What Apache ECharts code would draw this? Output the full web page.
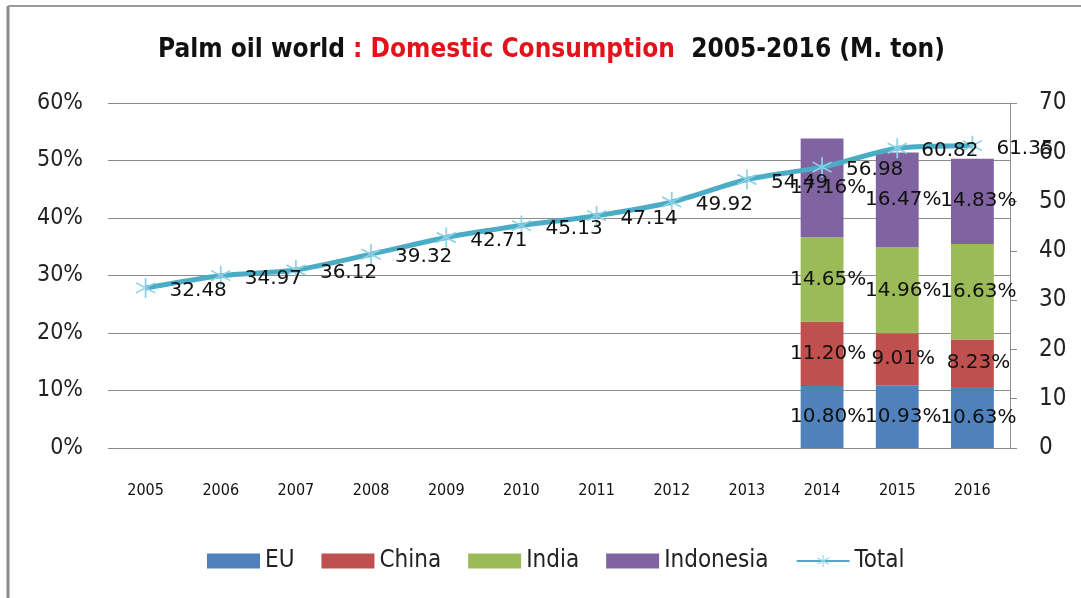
<!DOCTYPE html>
<html>
<head>
<meta charset="utf-8">
<script src="https://cdn.jsdelivr.net/npm/echarts@6/dist/echarts.min.js"></script>
<style>
  html, body { margin: 0; padding: 0; background: #fff; }
  #chart { width: 1081px; height: 598px; }
</style>
</head>
<body>
<div id="chart"></div>
<script>
// Palm oil domestic consumption, 2005-2016
const years = ['2005', '2006', '2007', '2008', '2009', '2010', '2011', '2012', '2013', '2014', '2015', '2016'];

// Country shares of world consumption (%), only reported for 2014-2016
const euShare        = ['-', '-', '-', '-', '-', '-', '-', '-', '-', 10.80, 10.93, 10.63];
const chinaShare     = ['-', '-', '-', '-', '-', '-', '-', '-', '-', 11.20, 9.01, 8.23];
const indiaShare     = ['-', '-', '-', '-', '-', '-', '-', '-', '-', 14.65, 14.96, 16.63];
const indonesiaShare = ['-', '-', '-', '-', '-', '-', '-', '-', '-', 17.16, 16.47, 14.83];

// World total (million tons)
const totalTons = [32.48, 34.97, 36.12, 39.32, 42.71, 45.13, 47.14, 49.92, 54.49, 56.98, 60.82, 61.35];

const narrow = '"Liberation Sans Narrow", "DejaVu Sans Condensed", "Liberation Sans", sans-serif';
const labelFont = '"DejaVu Sans", sans-serif';

// six-armed asterisk marker
const asterisk = 'path://M46,0L54,0L54,100L46,100Z' +
  'M91.3,78.46L95.3,71.54L8.7,21.54L4.7,28.46Z' +
  'M95.3,28.46L91.3,21.54L4.7,71.54L8.7,78.46Z';

const chart = echarts.init(document.getElementById('chart'), null, { renderer: 'canvas' });

function shareSeries(name, data, color) {
  return {
    name: name,
    type: 'bar',
    stack: 'share',
    yAxisIndex: 0,
    barWidth: '57%',
    data: data,
    itemStyle: { color: color },
    label: {
      show: true,
      position: 'inside',
      offset: [6, 0],
      color: '#111',
      fontFamily: labelFont,
      fontSize: 20,
      formatter: p => (typeof p.value === 'number' ? p.value.toFixed(2) + '%' : '')
    }
  };
}

chart.setOption({
  backgroundColor: '#ffffff',
  animation: false,
  title: {
    left: 153,
    top: 32,
    text: '{a|Palm oil world }{b|: Domestic Consumption }{a| 2005-2016 (M. ton)}',
    textStyle: {
      rich: {
        a: { fontFamily: narrow, fontWeight: 'bold', fontSize: 26, color: '#111' },
        b: { fontFamily: narrow, fontWeight: 'bold', fontSize: 26, color: '#e3131b' }
      }
    }
  },
  graphic: [
    { type: 'line', shape: { x1: 8, y1: 6, x2: 8, y2: 598 }, style: { stroke: '#8a8a8a', lineWidth: 3 } },
    { type: 'line', shape: { x1: 8, y1: 6, x2: 1081, y2: 6 }, style: { stroke: '#9a9a9a', lineWidth: 2 } }
  ],
  legend: {
    bottom: 20,
    left: 202,
    itemWidth: 53,
    itemHeight: 15,
    itemGap: 27,
    textStyle: { fontFamily: narrow, fontSize: 24, color: '#222' },
    data: [
      { name: 'EU', icon: 'rect' },
      { name: 'China', icon: 'rect' },
      { name: 'India', icon: 'rect' },
      { name: 'Indonesia', icon: 'rect' },
      { name: 'Total' }
    ]
  },
  grid: { left: 108, right: 71, top: 103, bottom: 150, containLabel: false },
  xAxis: {
    type: 'category',
    data: years,
    axisLine: { show: false },
    axisTick: { show: false },
    axisLabel: { margin: 35, fontFamily: narrow, fontSize: 16, color: '#111' }
  },
  yAxis: [
    {
      type: 'value',
      min: 0,
      max: 60,
      interval: 10,
      axisLine: { show: false },
      axisTick: { show: false },
      splitLine: { lineStyle: { color: '#8c8c8c', width: 1 } },
      axisLabel: { margin: 25, fontFamily: narrow, fontSize: 23, color: '#222', formatter: '{value}%' }
    },
    {
      type: 'value',
      min: 0,
      max: 70,
      interval: 10,
      position: 'right',
      axisLine: { show: true, lineStyle: { color: '#8c8c8c', width: 1 } },
      axisTick: { show: true, inside: false, length: 7, lineStyle: { color: '#8c8c8c' } },
      splitLine: { show: false },
      axisLabel: { margin: 29, fontFamily: narrow, fontSize: 24, color: '#222' }
    }
  ],
  series: [
    shareSeries('EU', euShare, '#4f81bd'),
    shareSeries('China', chinaShare, '#c0504d'),
    shareSeries('India', indiaShare, '#9bbb59'),
    shareSeries('Indonesia', indonesiaShare, '#8064a2'),
    {
      name: 'Total',
      type: 'line',
      yAxisIndex: 1,
      data: totalTons,
      smooth: 0.25,
      z: 5,
      symbol: asterisk,
      symbolSize: 20,
      lineStyle: { color: '#4bacc6', width: 5 },
      itemStyle: { color: '#8fd2e6' },
      label: {
        show: true,
        position: 'right',
        distance: 14,
        offset: [0, 3],
        color: '#111',
        fontFamily: labelFont,
        fontSize: 20,
        formatter: p => p.value.toFixed(2)
      }
    }
  ]
});
</script>
</body>
</html>
